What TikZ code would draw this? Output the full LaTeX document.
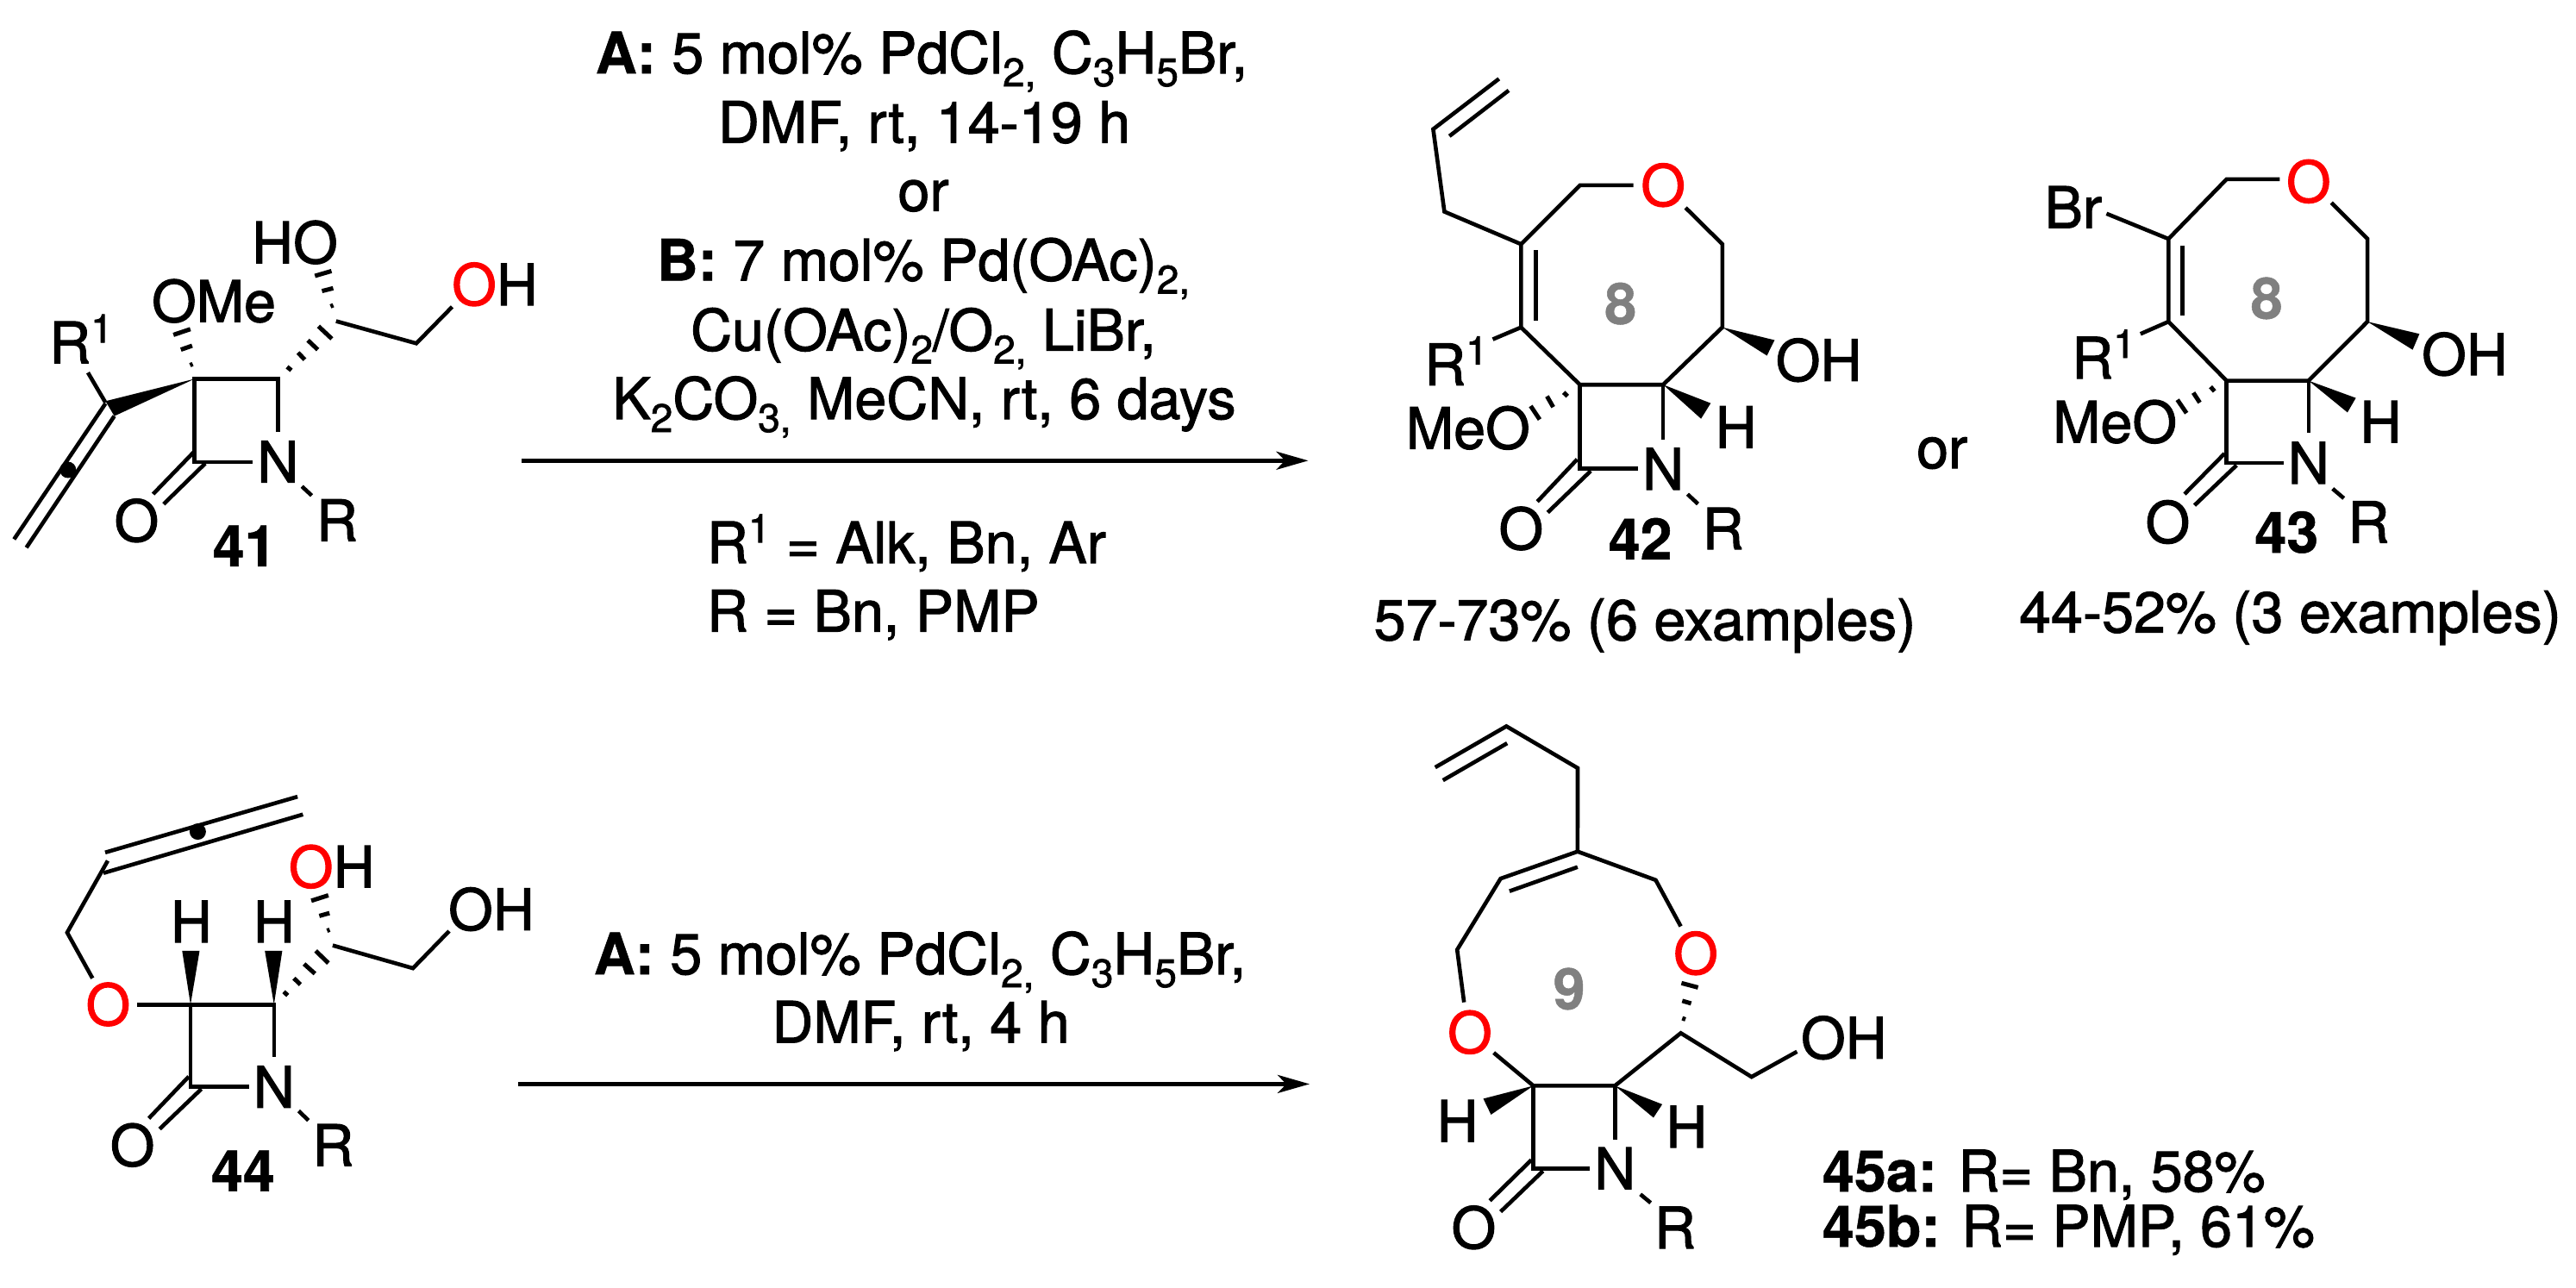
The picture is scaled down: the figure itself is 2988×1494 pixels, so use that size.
\documentclass[tikz,border=0pt]{standalone}
\usepackage{fontspec}
\setmainfont{TeX Gyre Heros}[FakeBold=1.6,BoldFeatures={FakeBold=0.8}]
\usetikzlibrary{arrows.meta}
\newcommand\sbs[1]{\raisebox{-15pt}{\fontsize{46}{46}\selectfont #1}}
\newcommand\sps[1]{\raisebox{24pt}{\fontsize{46}{46}\selectfont #1}}
\definecolor{ringgray}{HTML}{808080}
\definecolor{hetred}{HTML}{FF0000}
\tikzset{
  bond/.style={draw=black,line width=4.6pt,line join=miter,line cap=butt},
  hashb/.style={draw=black,line width=5pt,line cap=butt},
  wedge/.style={fill=black,draw=none},
  txt/.style={inner sep=0pt,outer sep=0pt,anchor=base,font=\fontsize{66.4}{80}\selectfont},
  txtl/.style={txt,anchor=base west},
  atom/.style={txt,yshift=-24pt},
  ringno/.style={atom,text=ringgray,font=\fontsize{66.4}{80}\selectfont\bfseries},
  cpd/.style={atom,font=\fontsize{66.4}{80}\selectfont\bfseries},
  rxn/.style={draw=black,line width=4.6pt,-{Stealth[length=37pt,width=21pt,inset=10pt]}},
}
\begin{document}
\begin{tikzpicture}[x=1pt,y=-1pt]
\useasboundingbox (0,0) rectangle (2988,1494);
\fill[white] (0,0) rectangle (2988,1494);

% ---------- reagents, top
\node[txt] (ra1) at (1069,85) {\textbf{A:} 5 mol\% PdCl\sbs{2,} C\sbs{3}H\sbs{5}Br,};
\node[txt] (ra2) at (1072,165.6) {DMF, rt, 14-19 h};
\node[txt] (ra3) at (1071,244.6) {or};
\node[txt] (ra4) at (1071,325.4) {\textbf{B:} 7 mol\% Pd(OAc)\sbs{2,}};
\node[txt] (ra5) at (1071,406.6) {Cu(OAc)\sbs{2}/O\sbs{2,} LiBr,};
\node[txt] (ra6) at (1072,486) {K\sbs{2}CO\sbs{3,} MeCN, rt, 6 days};
\node[txtl] (ra7) at (820,653.2) {R\sps{1} = Alk, Bn, Ar};
\node[txtl] (ra8) at (820,732.6) {R = Bn, PMP};
\coordinate (ar1s) at (605,534.3);
\coordinate (ar1e) at (1517.5,534.3);
\draw[rxn] (ar1s) -- (ar1e);

% ---------- 41
\node[atom] (n41N) at (322.4,535.7) {N};
\node[atom] (n41O) at (158.4,604) {O};
\node[atom] (n41R) at (391,603.6) {R};
\node[cpd] (n41) at (283.7,632.8) {41};
\node[atom] (n41R1) at (94,397.3) {R\sps{1}};
\node[atom] (n41OMe) at (248,349.3) {OMe};
\node[atom] (n41HO) at (342,281.3) {HO};
\node[atom] (n41OH) at (574,330) {\textcolor{hetred}{O}H};
\coordinate (a1) at (225.7,439.5);
\coordinate (a2) at (322.4,439.5);
\coordinate (a3) at (225.7,536);
\coordinate (a4) at (293,536);
\coordinate (a5) at (322.4,501.2);
\draw[bond] (a5) -- (a2) -- (a1) -- (a3) -- (a4);
\coordinate (a6) at (225.7,523.4); \coordinate (a7) at (177.6,573.1);
\coordinate (a8) at (238,537.6); \coordinate (a9) at (189.8,584.7);
\draw[bond] (a6) -- (a7); \draw[bond] (a8) -- (a9);
\coordinate (a10) at (350.2,564.2); \coordinate (a11) at (361.6,574.8);
\draw[bond] (a10) -- (a11);
\coordinate (a12) at (102,432.2); \coordinate (a13) at (122.4,467);
\draw[bond] (a12) -- (a13);
\coordinate (a14) at (122.4,465.3); \coordinate (a15) at (132.6,482.6);
\fill[wedge] (a1) -- (a14) -- (a15) -- cycle;
\coordinate (a16) at (16.3,625.5); \coordinate (a17) at (30.6,635.2);
\coordinate (a18) at (122.4,468);
\draw[bond] (a18) -- (a16); \draw[bond] (a15) -- (a17);
\coordinate (a19) at (78.8,545);
\fill (a19) circle (9.5pt);
\draw[hashb] (220.5,423.6) -- (223.5,422.2);
\draw[hashb] (209.8,405.6) -- (222.9,401);
\draw[hashb] (201.2,388.4) -- (220.8,381.8);
\draw[hashb] (333,425.5) -- (338,429.5);
\draw[hashb] (345.7,409) -- (353.5,417.2);
\draw[hashb] (357.1,394.7) -- (368.6,405.6);
\draw[hashb] (369.4,378.4) -- (384.9,393);
\coordinate (a20) at (389.8,372.5); \coordinate (a21) at (482.9,398.3); \coordinate (a22) at (524.5,355.9);
\draw[bond] (a20) -- (a21) -- (a22);
\draw[hashb] (383.4,355.4) -- (386.6,354);
\draw[hashb] (373.5,337.6) -- (386.5,334.3);
\draw[hashb] (365.3,320) -- (384.5,314.4);

% ---------- 42
\node[atom] (n42O1) at (1929.1,214.9) {\textcolor{hetred}{O}};
\node[atom] (n42N) at (1929.1,544) {N};
\node[atom] (n42O2) at (1764.3,613.2) {O};
\node[atom] (n42R) at (1998.7,613.2) {R};
\node[cpd] (n42) at (1902.6,624.9) {42};
\node[atom] (n42R1) at (1689,422.8) {R\sps{1}};
\node[atom] (n42MeO) at (1702.8,496.5) {MeO};
\node[atom] (n42OH) at (2109.6,417.9) {OH};
\node[atom] (n42H) at (2013.5,495.6) {H};
\node[ringno] (n428) at (1879.7,351.9) {8};
\node[txt] (y42) at (1908,742.5) {57-73\% (6 examples)};
\coordinate (b1) at (1738.7,91.4); \coordinate (b2) at (1662.4,149.8);
\coordinate (b3) at (1750,104.9); \coordinate (b4) at (1681.2,157.9);
\coordinate (b5) at (1675.4,245.5); \coordinate (b6) at (1764.3,283.2);
\coordinate (b7) at (1832.6,214.9); \coordinate (b8) at (1894.5,214.9);
\coordinate (b9) at (1955.2,241); \coordinate (b10) at (1997.8,283.2);
\coordinate (b11) at (1997.8,379.7); \coordinate (b12) at (1929.1,446.2);
\coordinate (b13) at (1832.6,446.2); \coordinate (b14) at (1764.3,379.7);
\draw[bond] (b1) -- (b2) -- (b5) -- (b6);
\draw[bond] (b3) -- (b4);
\draw[bond] (b8) -- (b7) -- (b6) -- (b14) -- (b13) -- (b12) -- (b11) -- (b10) -- (b9);
\coordinate (b15) at (1781.4,290.4); \coordinate (b16) at (1781.4,372);
\draw[bond] (b15) -- (b16);
\coordinate (b17) at (1731.5,393.6); \draw[bond] (b14) -- (b17);
\draw[hashb] (1775.5,470.9) -- (1785.9,486.6);
\draw[hashb] (1794.4,459.6) -- (1801.6,472.2);
\draw[hashb] (1813.7,455.2) -- (1818.2,459.6);
\coordinate (b18) at (1832.6,543.6); \coordinate (b19) at (1899.9,543.6); \coordinate (b20) at (1929.1,510.4);
\draw[bond] (b13) -- (b18) -- (b19); \draw[bond] (b12) -- (b20);
\coordinate (b21) at (1829.4,532.8); \coordinate (b22) at (1783.2,581.8);
\coordinate (b23) at (1845.1,546.3); \coordinate (b24) at (1795.3,594.4);
\draw[bond] (b21) -- (b22); \draw[bond] (b23) -- (b24);
\coordinate (b25) at (1957.4,573.2); \coordinate (b26) at (1969.5,584.5);
\draw[bond] (b25) -- (b26);
\fill[wedge] (b11) -- (2058.4,394.5) -- (2049.5,412.5) -- cycle;
\fill[wedge] (b12) -- (1984.3,467.7) -- (1973.1,485.7) -- cycle;

% ---------- or
\node[txt] (orr) at (2252.7,543) {or};

% ---------- 43
\node[atom] (n43O1) at (2677.8,210.6) {\textcolor{hetred}{O}};
\node[atom] (n43Br) at (2404.8,240.4) {Br};
\node[atom] (n43R1) at (2440,415.1) {R\sps{1}};
\node[atom] (n43MeO) at (2453.1,489.4) {MeO};
\node[atom] (n43N) at (2677.8,537.1) {N};
\node[atom] (n43O2) at (2514.4,605.7) {O};
\node[atom] (n43R) at (2747.5,605.7) {R};
\node[cpd] (n43) at (2652.3,617.1) {43};
\node[atom] (n43OH) at (2858.9,411) {OH};
\node[atom] (n43H) at (2761.4,489.4) {H};
\node[ringno] (n438) at (2629.1,345.7) {8};
\node[txt] (y43) at (2656.5,733.5) {44-52\% (3 examples)};
\coordinate (c1) at (2582.7,207.8); \coordinate (c2) at (2644.4,207.8);
\coordinate (c3) at (2704.3,235.1); \coordinate (c4) at (2746.1,277.1);
\coordinate (c5) at (2746.1,373.1); \coordinate (c6) at (2677.8,441.6);
\coordinate (c7) at (2582.7,441.6); \coordinate (c8) at (2515.3,373.1);
\coordinate (c9) at (2515.3,277.1);
\draw[bond] (c2) -- (c1) -- (c9) -- (c8) -- (c7) -- (c6) -- (c5) -- (c4) -- (c3);
\coordinate (c10) at (2531.6,284.5); \coordinate (c11) at (2531.6,366.1);
\draw[bond] (c10) -- (c11);
\coordinate (c12) at (2443.4,247.8); \draw[bond] (c9) -- (c12);
\coordinate (c13) at (2482.8,387.3); \draw[bond] (c8) -- (c13);
\draw[hashb] (2525.6,463.7) -- (2536.2,479.2);
\draw[hashb] (2544.1,455.5) -- (2551.6,467);
\draw[hashb] (2564.1,448.6) -- (2568.7,453.9);
\coordinate (c14) at (2582.7,537.1); \coordinate (c15) at (2649,537.1); \coordinate (c16) at (2677.8,502.4);
\draw[bond] (c7) -- (c14) -- (c15); \draw[bond] (c6) -- (c16);
\coordinate (c17) at (2580.3,526.1); \coordinate (c18) at (2533.9,573.1);
\coordinate (c19) at (2594.3,539.6); \coordinate (c20) at (2545.5,586.1);
\draw[bond] (c17) -- (c18); \draw[bond] (c19) -- (c20);
\coordinate (c21) at (2705.7,566.9); \coordinate (c22) at (2718.7,578);
\draw[bond] (c21) -- (c22);
\fill[wedge] (c5) -- (2806.4,387.3) -- (2798.5,405.7) -- cycle;
\fill[wedge] (c6) -- (2732.6,461.6) -- (2722.9,478.4) -- cycle;

% ---------- 44
\node[atom] (n44O1) at (125.4,1165.2) {\textcolor{hetred}{O}};
\node[atom] (n44N) at (317.8,1260.8) {N};
\node[atom] (n44O2) at (153.6,1328.4) {O};
\node[atom] (n44R) at (386.4,1328.4) {R};
\node[cpd] (n44) at (282,1357.6) {44};
\node[atom] (n44H1) at (221.8,1069) {H};
\node[atom] (n44H2) at (317.8,1069) {H};
\node[atom] (n44OHa) at (384.7,1005.4) {\textcolor{hetred}{O}H};
\node[atom] (n44OHb) at (569.9,1054.8) {OH};
\coordinate (d1) at (221,1165.2); \coordinate (d2) at (317.8,1165.2);
\coordinate (d3) at (221,1260.4); \coordinate (d4) at (289.1,1260.4);
\coordinate (d5) at (317.8,1225.9); \coordinate (d6) at (159.1,1165.2);
\draw[bond] (d5) -- (d2) -- (d1) -- (d3) -- (d4);
\draw[bond] (d6) -- (d1);
\coordinate (d7) at (107.3,1134.7); \coordinate (d8) at (77.9,1081.7); \coordinate (d9) at (125,998.4);
\draw[bond] (d7) -- (d8) -- (d9);
\coordinate (d10) at (120,1012.7); \coordinate (d11) at (351.4,944.7);
\coordinate (d12) at (122,988.8); \coordinate (d13) at (345.1,924.1);
\draw[bond] (d10) -- (d11); \draw[bond] (d12) -- (d13);
\coordinate (d14) at (229.4,964.6); \fill (d14) circle (9.5pt);
\fill[wedge] (d1) -- (211.3,1102.9) -- (231.5,1102.9) -- cycle;
\fill[wedge] (d2) -- (307.2,1102.9) -- (327.4,1102.9) -- cycle;
\draw[hashb] (329.1,1150.3) -- (333.8,1154.6);
\draw[hashb] (340.9,1134.7) -- (348.5,1142);
\draw[hashb] (352.7,1118.1) -- (365.3,1129.4);
\draw[hashb] (366.2,1102.9) -- (380.9,1117.1);
\coordinate (d15) at (385.9,1096.6); \coordinate (d16) at (479,1123.1); \coordinate (d17) at (521,1080);
\draw[bond] (d15) -- (d16) -- (d17);
\draw[hashb] (379.4,1079.6) -- (382.4,1078.4);
\draw[hashb] (370.4,1062.4) -- (382.2,1059.1);
\draw[hashb] (361.1,1044.8) -- (380.9,1038.5);
\coordinate (d18) at (218.9,1248.8); \coordinate (d19) at (172.6,1297.2);
\coordinate (d20) at (233.6,1263.1); \coordinate (d21) at (185.2,1309.5);
\draw[bond] (d18) -- (d19); \draw[bond] (d20) -- (d21);
\coordinate (d22) at (346.4,1288.6); \coordinate (d23) at (357.8,1299.6);
\draw[bond] (d22) -- (d23);

% ---------- reagents, bottom
\node[txt] (rb1) at (1067,1130) {\textbf{A:} 5 mol\% PdCl\sbs{2,} C\sbs{3}H\sbs{5}Br,};
\node[txt] (rb2) at (1068,1209.4) {DMF, rt, 4 h};
\coordinate (ar2s) at (601,1257.4);
\coordinate (ar2e) at (1519,1257.4);
\draw[rxn] (ar2s) -- (ar2e);

% ---------- 45
\node[atom] (n45O1) at (1704.9,1197.5) {\textcolor{hetred}{O}};
\node[atom] (n45O2) at (1967,1105.9) {\textcolor{hetred}{O}};
\node[atom] (n45OH) at (2138.8,1203.9) {OH};
\node[atom] (n45N) at (1873.2,1355.3) {N};
\node[atom] (n45O3) at (1709.4,1424) {O};
\node[atom] (n45R) at (1942.9,1424) {R};
\node[atom] (n45H1) at (1690.6,1300.2) {H};
\node[atom] (n45H2) at (1956.3,1307.1) {H};
\node[ringno] (n459) at (1820.1,1146.7) {9};
\node[txtl] (l45a) at (2114,1382) {\textbf{45a:} R= Bn, 58\%};
\node[txtl] (l45b) at (2114,1446) {\textbf{45b:} R= PMP, 61\%};
\coordinate (e1) at (1664.7,890.1); \coordinate (e2) at (1747.3,842.4);
\coordinate (e3) at (1673.7,905.1); \coordinate (e4) at (1748.2,862.1);
\coordinate (e5) at (1830,890.9); \coordinate (e6) at (1829.9,987.7);
\coordinate (e7) at (1740.6,1019.1); \coordinate (e8) at (1829.9,1005.7);
\coordinate (e9) at (1750.9,1033.7); \coordinate (e10) at (1690.2,1101.6);
\coordinate (e11) at (1698.2,1162.6); \coordinate (e12) at (1732.6,1221.1);
\coordinate (e13) at (1778.6,1259.4); \coordinate (e14) at (1920.5,1020.8);
\coordinate (e15) at (1949.6,1074.5); \coordinate (e16) at (1949.6,1198.3);
\coordinate (e17) at (1873.2,1259.4); \coordinate (e18) at (2031.7,1249.1);
\coordinate (e19) at (2084.4,1219.8); \coordinate (e20) at (1778.6,1355.3);
\coordinate (e21) at (1844.2,1355.3); \coordinate (e22) at (1873.2,1321.7);
\draw[bond] (e1) -- (e2) -- (e5) -- (e6) -- (e7) -- (e10) -- (e11);
\draw[bond] (e3) -- (e4); \draw[bond] (e8) -- (e9);
\draw[bond] (e6) -- (e14) -- (e15);
\draw[bond] (e12) -- (e13) -- (e17) -- (e16) -- (e18) -- (e19);
\draw[bond] (e21) -- (e20) -- (e13);
\draw[bond] (e17) -- (e22);
\draw[hashb] (1950.4,1140.3) -- (1969.6,1145.4);
\draw[hashb] (1951.3,1160.9) -- (1961.6,1163.9);
\draw[hashb] (1951.3,1181.1) -- (1955,1182.4);
\coordinate (e23) at (1776.3,1345.4); \coordinate (e24) at (1728.1,1392.7);
\coordinate (e25) at (1789.7,1358.3); \coordinate (e26) at (1740.6,1405.5);
\draw[bond] (e23) -- (e24); \draw[bond] (e25) -- (e26);
\coordinate (e27) at (1902.7,1385.3); \coordinate (e28) at (1914.7,1395.2);
\draw[bond] (e27) -- (e28);
\fill[wedge] (e13) -- (1720.5,1274.4) -- (1729.5,1292.9) -- cycle;
\fill[wedge] (e17) -- (1928.1,1280.9) -- (1917.9,1296.4) -- cycle;
\end{tikzpicture}
\end{document}
